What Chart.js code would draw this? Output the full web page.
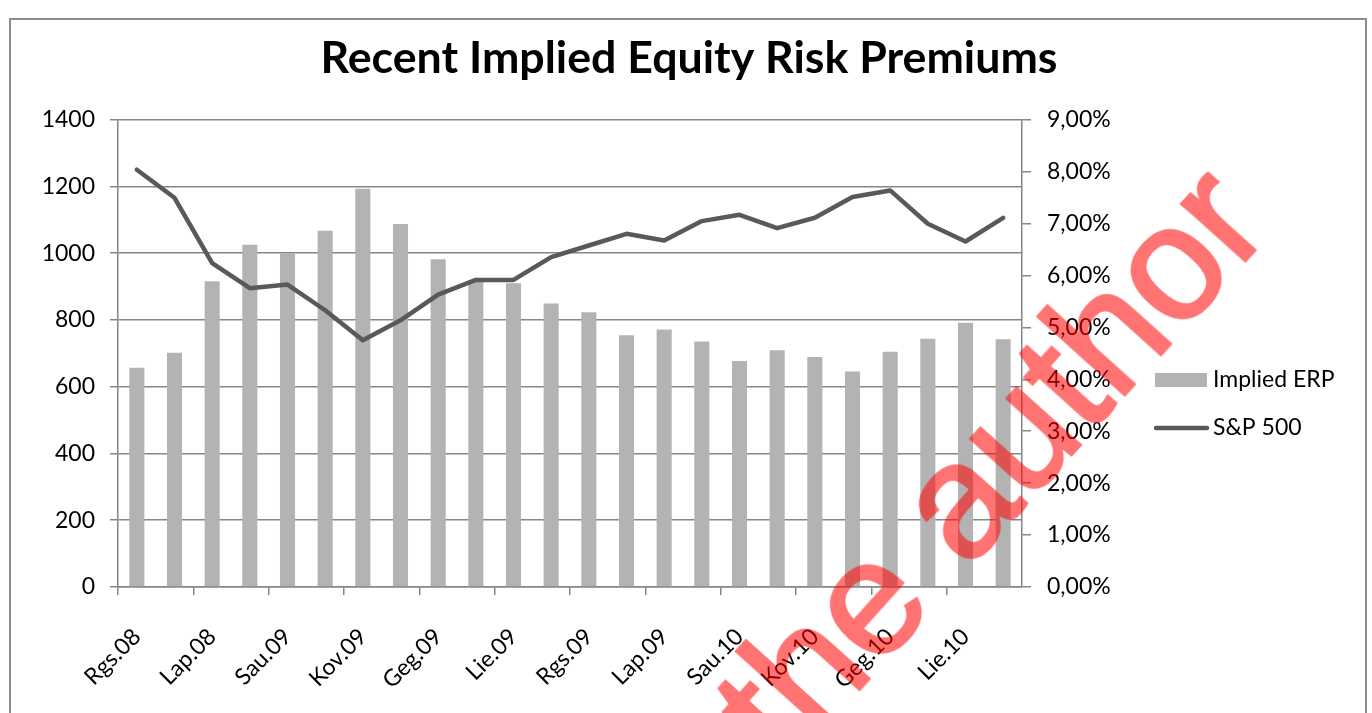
<!DOCTYPE html>
<html>
<head>
<meta charset="utf-8">
<script src="https://cdn.jsdelivr.net/npm/chart.js@4"></script>
<style>
html,body{margin:0;padding:0;background:#fff;}
#wrap{position:relative;width:1372px;height:713px;overflow:hidden;background:#fff;}
#frame{position:absolute;left:9px;top:18px;width:1354px;height:760px;border:2px solid #8c8c8c;}
canvas{position:absolute;left:0;top:0;}
#wm{position:absolute;left:916px;top:543px;font-family:"Liberation Sans",Arial,sans-serif;font-size:162px;line-height:1;color:#ff0000;-webkit-text-stroke:3px #ff0000;opacity:0.55;white-space:nowrap;transform:translate(-50%,-50%) rotate(-48deg);pointer-events:none;}
</style>
</head>
<body>
<div id="wrap">
  <div id="frame"></div>
  <canvas id="c" width="1372" height="713"></canvas>
  <div id="wm">by the author</div>
</div>
<script>
const categories = ["Rgs.08","Spa.08","Lap.08","Grd.08","Sau.09","Vas.09","Kov.09","Bal.09","Geg.09","Bir.09","Lie.09","Rgp.09","Rgs.09","Spa.09","Lap.09","Grd.09","Sau.10","Vas.10","Kov.10","Bal.10","Geg.10","Bir.10","Lie.10","Rgp.10"];
const impliedERP = [4.22, 4.51, 5.89, 6.59, 6.43, 6.86, 7.67, 6.99, 6.31, 5.90, 5.85, 5.46, 5.29, 4.85, 4.96, 4.73, 4.35, 4.56, 4.43, 4.15, 4.53, 4.78, 5.09, 4.77];
const sp500 = [1250, 1166, 970, 895, 906, 829, 739, 799, 876, 920, 920, 988, 1023, 1058, 1038, 1096, 1115, 1075, 1106, 1168, 1188, 1088, 1035, 1106];
const titleText = "Recent Implied Equity Risk Premiums";
const seriesNames = ["Implied ERP", "S&P 500"];

const FONT = "Lato";
const barColor = "#b3b3b3";
const lineColor = "#595959";
const axisColor = "#868686";

const legendPlugin = {
  id: "customLegend",
  afterDraw(chart) {
    const ctx = chart.ctx;
    ctx.save();
    ctx.font = "23px " + FONT;
    ctx.textBaseline = "middle";
    ctx.textAlign = "left";
    ctx.fillStyle = barColor;
    ctx.fillRect(1155, 373, 52, 14);
    ctx.fillStyle = "#000";
    ctx.fillText(seriesNames[0], 1213, 380);
    ctx.strokeStyle = lineColor;
    ctx.lineWidth = 4.5;
    ctx.lineCap = "round";
    ctx.beginPath();
    ctx.moveTo(1156, 428);
    ctx.lineTo(1207, 428);
    ctx.stroke();
    ctx.fillStyle = "#000";
    ctx.fillText(seriesNames[1], 1213, 428);
    ctx.restore();
  }
};

function build() {
  new Chart(document.getElementById("c"), {
    data: {
      labels: categories,
      datasets: [
        { type: "line", label: seriesNames[1], data: sp500, yAxisID: "y", borderColor: lineColor, borderWidth: 4.5, pointRadius: 0, tension: 0, order: 0, borderJoinStyle: "round", borderCapStyle: "round" },
        { type: "bar", label: seriesNames[0], data: impliedERP, yAxisID: "y1", backgroundColor: barColor, barPercentage: 0.4, categoryPercentage: 1, order: 1 }
      ]
    },
    options: {
      responsive: false,
      animation: false,
      devicePixelRatio: 1,
      layout: { padding: { left: 14, right: 8, top: 0, bottom: 0 } },
      plugins: {
        legend: { display: false },
        tooltip: { enabled: false },
        title: { display: true, text: titleText, color: "#000", font: { family: FONT, size: 44.7, weight: "bold" }, padding: { top: 32, bottom: 34 } }
      },
      scales: {
        x: {
          type: "category",
          offset: true,
          grid: { offset: true, drawOnChartArea: false, drawTicks: true, tickLength: 8, lineWidth: 1.5, color: (c) => (c.index % 2 === 0 ? axisColor : "rgba(0,0,0,0)") },
          border: { display: true, color: axisColor, width: 1.5 },
          ticks: { autoSkip: false, maxRotation: 45, minRotation: 45, padding: 28, color: "#000", font: { family: FONT, size: 23 }, callback: (v, i) => (i % 2 === 0 ? categories[i] : "") },
          afterFit: (s) => { s.height = 126; }
        },
        y: {
          position: "left",
          min: 0, max: 1400,
          ticks: { stepSize: 200, padding: 15, color: "#000", font: { family: FONT, size: 23 }, callback: (v) => String(v) },
          grid: { color: axisColor, lineWidth: 1.5, tickLength: 8 },
          border: { color: axisColor, width: 1.5 },
          afterFit: (s) => { s.width = 104; }
        },
        y1: {
          position: "right",
          min: 0, max: 9,
          ticks: { stepSize: 1, padding: 16, color: "#000", font: { family: FONT, size: 23 }, callback: (v) => v.toFixed(2).replace(".", ",") + "%" },
          grid: { drawOnChartArea: false, color: axisColor, lineWidth: 1.5, tickLength: 9 },
          border: { color: axisColor, width: 1.5 },
          afterFit: (s) => { s.width = 342; }
        }
      }
    },
    plugins: [legendPlugin]
  });
}

Promise.all([
  document.fonts.load("23px Lato"),
  document.fonts.load("bold 44px Lato"),
  document.fonts.load("162px 'Liberation Sans'")
]).then(build, build);
</script>
</body>
</html>
